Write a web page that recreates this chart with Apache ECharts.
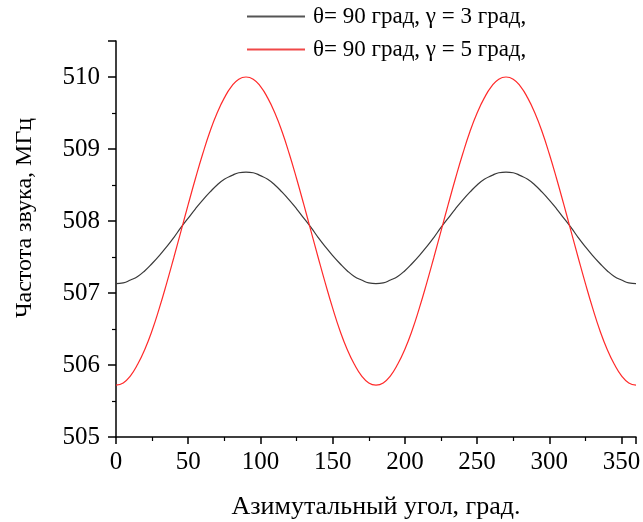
<!DOCTYPE html>
<html>
<head>
<meta charset="utf-8">
<script src="https://cdn.jsdelivr.net/npm/echarts@6/dist/echarts.min.js"></script>
<style>html,body{margin:0;padding:0;background:#fff}#c{width:643px;height:522px}</style>
</head>
<body>
<div id="c"></div>
<script>
var angles = [0,5,10,15,20,25,30,35,40,45,50,55,60,65,70,75,80,85,90,
  95,100,105,110,115,120,125,130,135,140,145,150,155,160,165,170,175,180,
  185,190,195,200,205,210,215,220,225,230,235,240,245,250,255,260,265,270,
  275,280,285,290,295,300,305,310,315,320,325,330,335,340,345,350,355,360];
var gamma3 = [507.13,507.14,507.18,507.23,507.31,507.41,507.52,507.64,507.77,507.91,508.04,508.17,508.29,508.40,508.50,508.58,508.63,508.67,508.68,
  508.67,508.63,508.58,508.50,508.40,508.29,508.17,508.04,507.91,507.77,507.64,507.52,507.41,507.31,507.23,507.18,507.14,507.13,
  507.14,507.18,507.23,507.31,507.41,507.52,507.64,507.77,507.91,508.04,508.17,508.29,508.40,508.50,508.58,508.63,508.67,508.68,
  508.67,508.63,508.58,508.50,508.40,508.29,508.17,508.04,507.91,507.77,507.64,507.52,507.41,507.31,507.23,507.18,507.14,507.13];
var gamma5 = [505.72,505.75,505.85,506.01,506.22,506.48,506.79,507.13,507.49,507.86,508.23,508.59,508.93,509.24,509.50,509.71,509.87,509.97,510.00,
  509.97,509.87,509.71,509.50,509.24,508.93,508.59,508.23,507.86,507.49,507.13,506.79,506.48,506.22,506.01,505.85,505.75,505.72,
  505.75,505.85,506.01,506.22,506.48,506.79,507.13,507.49,507.86,508.23,508.59,508.93,509.24,509.50,509.71,509.87,509.97,510.00,
  509.97,509.87,509.71,509.50,509.24,508.93,508.59,508.23,507.86,507.49,507.13,506.79,506.48,506.22,506.01,505.85,505.75,505.72];
var seriesNames = ['θ= 90 град, γ = 3 град,', 'θ= 90 град, γ = 5 град,'];
var xName = 'Азимутальный угол, град.';
var yName = 'Частота звука, МГц';

function pairs(ys){ return angles.map(function(a,i){ return [a, ys[i]]; }); }
var font = '"Liberation Serif","Times New Roman",serif';
var chart = echarts.init(document.getElementById('c'));
chart.setOption({
  animation: false,
  backgroundColor: '#fff',
  grid: {left: 116, right: 7, top: 41, bottom: 85, containLabel: false, outerBoundsMode: 'none'},
  legend: {
    orient: 'vertical', left: 242, top: 0, itemWidth: 58, itemHeight: 2, itemGap: 10,
    icon: 'rect',
    textStyle: {fontFamily: font, fontSize: 23, color: '#000', padding: [0, 0, 0, 3]},
    data: [
      {name: seriesNames[0], itemStyle: {color: '#555555'}},
      {name: seriesNames[1], itemStyle: {color: '#f04848'}}
    ]
  },
  xAxis: {
    type: 'value', min: 0, max: 360, interval: 50,
    name: xName, nameLocation: 'middle', nameGap: 57,
    nameTextStyle: {fontFamily: font, fontSize: 26, color: '#000'},
    axisLine: {show: true, lineStyle: {color: '#000', width: 1.5}},
    axisTick: {show: true, inside: false, length: 7, lineStyle: {color: '#000', width: 1.5}},
    minorTick: {show: true, splitNumber: 2, length: 4, lineStyle: {color: '#000', width: 1.2}},
    axisLabel: {fontFamily: font, fontSize: 25, color: '#000', margin: 13, showMaxLabel: false},
    splitLine: {show: false}
  },
  yAxis: {
    type: 'value', min: 505, max: 510.5, interval: 1,
    name: yName, nameLocation: 'middle', nameGap: 79,
    nameTextStyle: {fontFamily: font, fontSize: 24, color: '#000', padding: [0, 0, 0, 42]},
    axisLine: {show: true, lineStyle: {color: '#000', width: 1.5}},
    axisTick: {show: true, inside: false, length: 8, lineStyle: {color: '#000', width: 1.5}},
    minorTick: {show: true, splitNumber: 2, length: 4, lineStyle: {color: '#000', width: 1.2}},
    axisLabel: {fontFamily: font, fontSize: 25, color: '#000', margin: 16, showMaxLabel: false},
    splitLine: {show: false}
  },
  series: [
    {name: seriesNames[0], type: 'line', data: pairs(gamma3), smooth: true, symbol: 'none',
     lineStyle: {color: '#3a3a3a', width: 1.2}, itemStyle: {color: '#3a3a3a'}},
    {name: seriesNames[1], type: 'line', data: pairs(gamma5), smooth: true, symbol: 'none',
     lineStyle: {color: '#ff2a2a', width: 1.2}, itemStyle: {color: '#ff2a2a'}}
  ]
});
</script>
</body>
</html>
